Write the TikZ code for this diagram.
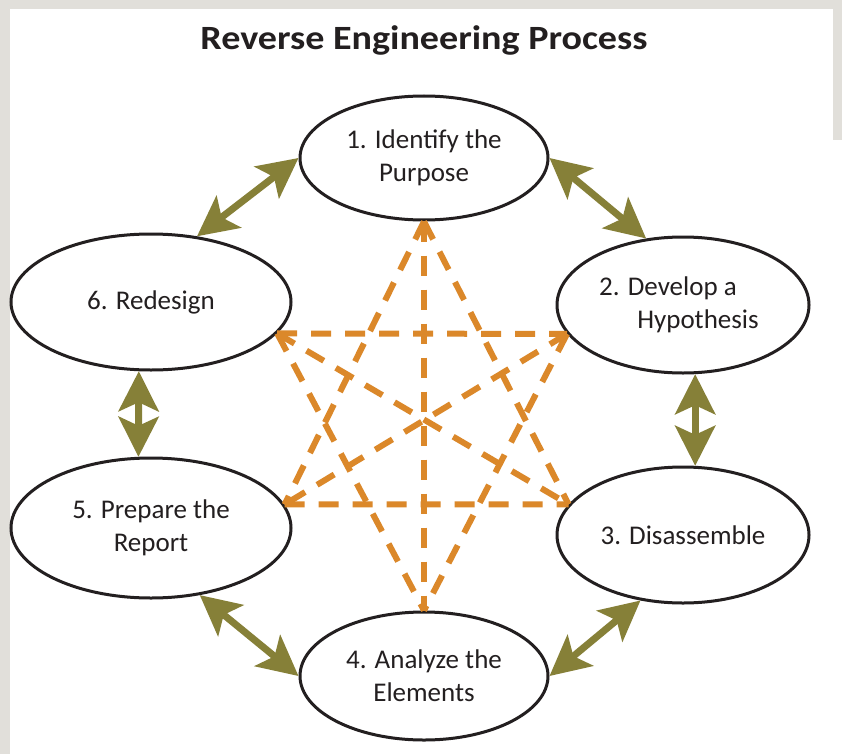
\documentclass[tikz,border=0pt]{standalone}
\usepackage{fontspec}
\usepackage{graphicx}
\setmainfont{Carlito}
\usetikzlibrary{shapes.geometric,arrows.meta}
\definecolor{olivelink}{RGB}{134,128,56}
\definecolor{dashorange}{RGB}{219,136,42}
\definecolor{bggrey}{RGB}{225,223,218}
\definecolor{inkline}{RGB}{35,31,32}
\begin{document}
\begin{tikzpicture}[x=1pt,y=-1pt,
  stage/.style={ellipse, draw=inkline, line width=3pt, fill=white, inner sep=0pt,
    align=center, text=inkline, font=\fontsize{27}{33}\selectfont},
  link/.style={draw=olivelink, line width=7pt,
    {Stealth[length=40pt,width=40pt,inset=9pt]}-{Stealth[length=40pt,width=40pt,inset=9pt]}},
  star/.style={draw=dashorange, line width=6pt, dash pattern=on 20pt off 14pt}
]
\useasboundingbox (0,0) rectangle (842,754);
\fill[bggrey] (0,0) rectangle (842,754);
\fill[white] (10,9) rectangle (842,754);
\fill[bggrey] (833,0) rectangle (842,140);

\node[font=\bfseries\fontsize{34}{38}\selectfont, text=inkline] (title) at (424,40) {\scalebox{1.12}[1]{Reverse Engineering Process}};

\node[stage, minimum width=248pt, minimum height=124pt] (n1) at (424,158) {1. Identify the\\Purpose};
\node[stage, minimum width=252pt, minimum height=136pt] (n2) at (683,305) {2. Develop a\hspace*{30pt}\\\hspace*{30pt}Hypothesis};
\node[stage, minimum width=252pt, minimum height=136pt] (n3) at (683,535) {3. Disassemble};
\node[stage, minimum width=248pt, minimum height=128pt] (n4) at (424,676) {4. Analyze the\\Elements};
\node[stage, minimum width=280pt, minimum height=140pt] (n5) at (151,528) {5. Prepare the\\Report};
\node[stage, minimum width=280pt, minimum height=136pt] (n6) at (151,302) {6. Redesign};

% dashed hexagram
\draw[star] (n1.south) -- (n4.north);
\draw[star] (n1.south) -- (n3.165);
\draw[star] (n1.south) -- (n5.10);
\draw[star] (n5.10) -- (n3.165);
\draw[star] (n6.-14) -- (n2.194.5);
\draw[star] (n6.-14) -- (n4.north);
\draw[star] (n2.194.5) -- (n4.north);
\draw[star] (n6.-14) -- (n3.165);
\draw[star] (n2.194.5) -- (n5.10);

% olive double arrows
\draw[link] (n6.55.5) -- (n1.west);
\draw[link] (n1.east) -- (n2.119.6);
\draw[link] (n2.-80) -- (n3.80);
\draw[link] (n6.-100) -- (n5.100);
\draw[link] (n5.-54) -- (n4.west);
\draw[link] (n4.east) -- (n3.237.7);
\end{tikzpicture}
\end{document}
